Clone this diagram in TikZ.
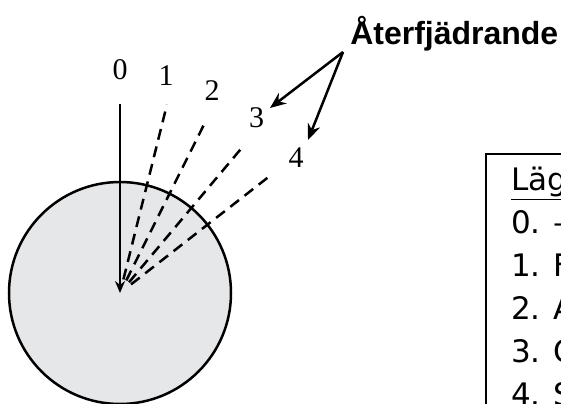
\documentclass[tikz,border=0pt]{standalone}
\usepackage{fontspec}
\setmainfont{Liberation Serif}
\newfontfamily\rubrikfont{Liberation Sans}
\newfontfamily\lagefont{DejaVu Sans}
\usepackage{xcolor}
\usetikzlibrary{arrows.meta}

\definecolor{skiva}{HTML}{E6E7E8}
\tikzset{
    siffra/.style={font=\fontsize{15}{15}\selectfont, inner sep=0pt},
    lagetext/.style={font=\lagefont\fontsize{15.5}{15.5}\selectfont, anchor=base west, inner sep=0pt},
    streckad/.style={dash pattern=on 5.5pt off 3.5pt}
}

\begin{document}
\begin{tikzpicture}[>={Stealth[length=8pt,width=6.5pt]}, x=0.5pt, y=0.5pt, line width=1.25pt]
    \useasboundingbox (-120,-110) rectangle (441,293);
    \clip (-120,-110) rectangle (441,293);

    % Skivan
    \draw[fill=skiva] (0,0) circle (111);
    \coordinate (M) at (0,0);

    % Läge 0
    \coordinate (P0) at (90:189);
    \draw[->, >={Stealth[length=6pt,width=5pt]}] (P0) -- (M);
    \node[siffra] (n0) at (90:223) {0};

    % Lägen 1-4
    \foreach \v/\w/\n in {76/78/1, 63.5/65.5/2, 50/52/3, 38/37.5/4} {
        \coordinate (s\n) at (\v:14);
        \coordinate (e\n) at (\v:194);
        \draw[streckad] (s\n) -- (e\n);
        \node[siffra] (n\n) at (\w:222) {\n};
    }

    % Återfjädrande
    \node[font=\rubrikfont\bfseries\fontsize{16}{18}\selectfont, anchor=base west, inner sep=0pt]
        (titel) at (229,249) {Återfjädrande};
    \coordinate (spets) at (223,241);
    \coordinate (mot3) at (150,185);
    \coordinate (mot4) at (188,153);
    \draw[->] (spets) -- (mot3);
    \draw[->] (spets) -- (mot4);

    % Rutan med lägen
    \draw[line width=0.75pt] (366,-130) rectangle (480,139);
    \node[lagetext] (rubrik) at (390,103) {\underline{Läg}};
    \foreach \y/\t [count=\i from 0] in {60/0. –, 17/1. F, -26/2. A, -69/3. C, -112/4. S} {
        \node[lagetext] (l\i) at (390,\y) {\t};
    }
\end{tikzpicture}
\end{document}
